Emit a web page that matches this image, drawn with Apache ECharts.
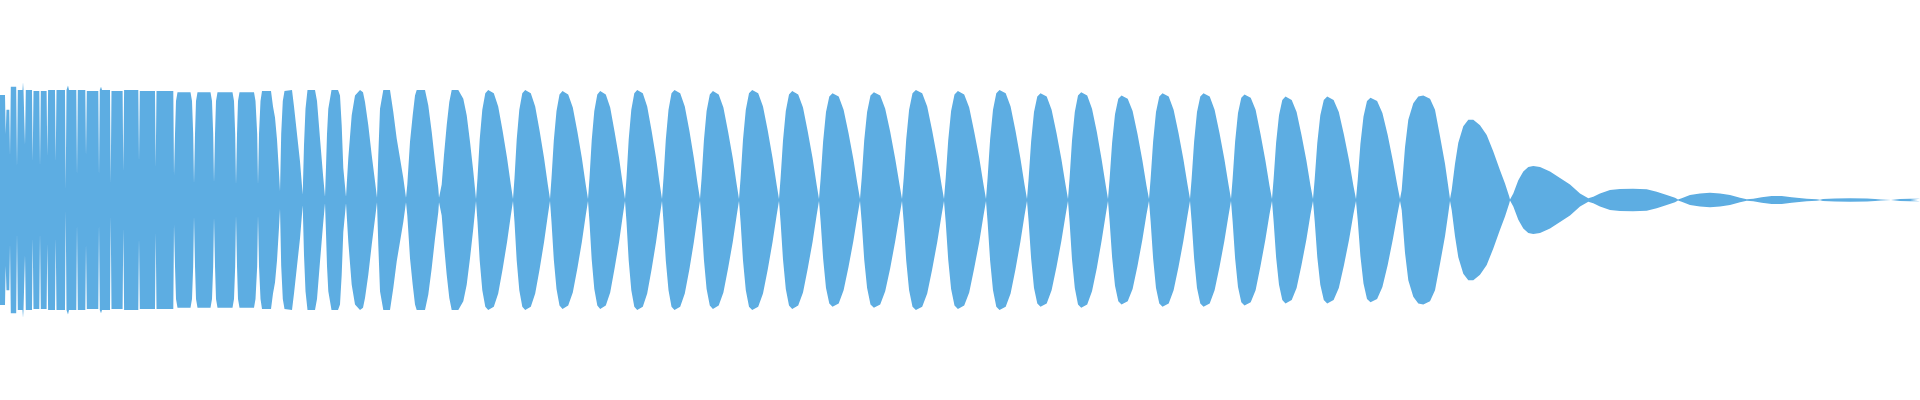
<!DOCTYPE html>
<html>
<head>
<meta charset="utf-8">
<script src="https://cdn.jsdelivr.net/npm/echarts@6/dist/echarts.min.js"></script>
<style>
html,body{margin:0;padding:0;background:#fff;}
#chart{width:1920px;height:400px;}
</style>
</head>
<body>
<div id="chart"></div>
<script>
// Envelope of the waveform: [time position, amplitude].
const headPts = [
[0,.955],[5,.955],[5.7,.6],[6.5,.82],[9.3,.82],[10,.4],[10.8,1.03],[16.2,1.03],[17,.3],[17.8,1.0],[22.5,1.0],[23,1.07],[23.5,1.0],[24.3,1.0],
[25,.5],[25.8,1.0],[32,1.0],[32.7,.35],[33.5,.99],[39.3,.99],[40,.3],[40.8,.99],[46.6,.99],[47.3,.4],[48.1,1.0],[55,1.0],
[55.7,.35],[56.5,1.0],[65,1.0],[65.7,.1],[66.5,1.0],[68,1.04],[69,1.0],[76.3,1.0],[77,.22],[77.8,1.0],[85.3,1.0],[86,.4],[86.8,.99],[98.3,.99],
[99,.22],[99.8,1.0],[101,1.03],[102,1.0],[110,1.0],[110.7,.15],[111.5,.99],[122.6,.99],[123.3,.26],[124.1,1.0],[138.3,1.0],[139,.35],[139.8,.99],
[155,.99],[155.7,.3],[156.5,.99],[173.3,.99],[174,.22],
[175,.6],[176,.9],[177.5,.98],[190.5,.98],[192,.9],[193.2,.6],[194,.15],
[195,.6],[196,.9],[197.5,.98],[210.5,.98],[212,.9],[213.2,.6],[214,.16],
[215,.6],[216,.9],[217.5,.98],[232.5,.98],[234,.9],[235.2,.6],[236,.14],
[237,.6],[238,.9],[239.5,.98],[254,.98],[255.5,.9],[257.2,.6],[258,.14],
[259,.6],[260.5,.9],[262,.99],[271,.99],[273,.85],[275,.75],[277,.55],[279,.25],[280,.08],
[281.2,.6],[282.8,.9],[284.5,.99],[292,1.0],[294,.85],[297,.6],[300,.35],[301.8,.15],[302.7,.05]
];
const bodyPtsA = [
[304,.5],[305.5,.83],[307.5,1.0],[315,1.0],[317,.9],[320,.56],[323,.23],
[325,.03],[326,.3],[327,.6],[328.3,.83],[331.5,1.0],[338,1.0],[340,.95],[341.7,.68],[343.3,.29],
[346,.03],[348.3,.38],[351.7,.77],[355,.95],[360,1.0],[363,.98],[365,.89],[368.3,.68],[371.7,.41],[375,.17],
[377,.02],[378.3,.41],[380,.83],[383.3,1.0],[390,1.0],[393.3,.8],[396.7,.56],[400,.38],[403.3,.2],
[406,.02],[407.3,.14],[410,.53],[412.7,.77],[415,.95],[416.7,1.0],[425,1.0],[428.3,.86],[431.7,.62],[435,.35],[438.3,.11],
[439,.02],[441.7,.14],[444,.41],[446.7,.68],[449.3,.89],[451.7,1.0],[458.3,1.0],[463.3,.92],[466.7,.77],[470,.53],[473.3,.26],
[476,.01],[477.5,.2],[479.7,.55],[482.3,.82],[485.3,.97],[488.2,1],[493.8,.97],[498.2,.85],[502.6,.63],[507.1,.38],[510.8,.14],
[513,.01],[514.5,.2],[516.7,.55],[519.3,.82],[522.3,.97],[525.2,1],[530.8,.97],[535.2,.85],[539.6,.63],[544.1,.38],[547.8,.14],
[550,.01],[551.5,.2],[553.8,.54],[556.5,.81],[559.5,.96],[562.5,.99],[568.2,.96],[572.8,.84],[577.4,.62],[581.9,.38],[585.7,.14],
[588,.01],[589.5,.2],[591.7,.54],[594.3,.81],[597.3,.96],[600.2,.99],[605.8,.96],[610.2,.84],[614.6,.62],[619.1,.38],[622.8,.14],
[625,.01],[626.5,.2],[628.7,.55],[631.3,.82],[634.3,.97],[637.2,1],[642.8,.97],[647.2,.85],[651.6,.63],[656.1,.38],[659.8,.14],
[662,.01],[663.5,.2],[665.8,.55],[668.5,.82],[671.5,.97],[674.5,1],[680.2,.97],[684.8,.85],[689.4,.63],[693.9,.38],[697.7,.14]
];
const bodyPtsB = [
[700,.01],[701.6,.2],[703.9,.54],[706.6,.81],[709.8,.96],[712.9,.99],[718.7,.96],[723.4,.84],[728.1,.62],[732.8,.38],[736.7,.14],
[739,.01],[740.6,.2],[743,.55],[745.8,.82],[749,.97],[752.2,1],[758.2,.97],[763,.85],[767.8,.63],[772.6,.38],[776.6,.14],
[779,.01],[780.6,.2],[783,.54],[785.8,.81],[789,.96],[792.2,.99],[798.2,.96],[803,.84],[807.8,.62],[812.6,.38],[816.6,.14],
[819,.01],[820.6,.19],[823.1,.53],[826,.8],[829.3,.94],[832.5,.97],[838.7,.94],[843.6,.82],[848.5,.61],[853.4,.37],[857.5,.14],
[860,.01],[861.7,.2],[864.2,.54],[867.1,.8],[870.5,.95],[873.9,.98],[880.2,.95],[885.2,.83],[890.2,.62],[895.3,.37],[899.5,.14],
[902,.01],[903.7,.2],[906.2,.55],[909.1,.82],[912.5,.97],[915.9,1],[922.2,.97],[927.2,.85],[932.2,.63],[937.3,.38],[941.5,.14],
[944,.01],[945.7,.2],[948.2,.54],[951.1,.81],[954.5,.96],[957.9,.99],[964.2,.96],[969.2,.84],[974.2,.62],[979.3,.38],[983.5,.14],
[986,.01],[987.6,.2],[990.1,.55],[993,.82],[996.3,.97],[999.5,1],[1005.7,.97],[1010.6,.85],[1015.5,.63],[1020.4,.38],[1024.5,.14],
[1027,.01],[1028.6,.19],[1031.1,.53],[1034,.8],[1037.3,.94],[1040.5,.97],[1046.7,.94],[1051.6,.82],[1056.5,.61],[1061.4,.37],[1065.5,.14],
[1068,.01],[1069.6,.2],[1072,.54],[1074.8,.8],[1078,.95],[1081.2,.98],[1087.2,.95],[1092,.83],[1096.8,.62],[1101.6,.37],[1105.6,.14],
[1108,.01],[1109.6,.19],[1112.1,.52],[1115,.78],[1118.3,.92],[1121.5,.95],[1127.7,.92],[1132.6,.81],[1137.5,.6],[1142.4,.36],[1146.5,.13],
[1149,.01],[1150.6,.19],[1153.1,.53],[1156,.8],[1159.3,.94],[1162.5,.97],[1168.7,.94],[1173.6,.82],[1178.5,.61],[1183.4,.37],[1187.5,.14],
[1190,.01],[1191.6,.19],[1194.1,.53],[1197,.8],[1200.3,.94],[1203.5,.97],[1209.7,.94],[1214.6,.82],[1219.5,.61],[1224.4,.37],[1228.5,.14],
[1231,.01],[1232.6,.19],[1235.1,.53],[1238,.79],[1241.3,.93],[1244.5,.96],[1250.7,.93],[1255.6,.82],[1260.5,.6],[1265.4,.36],[1269.5,.13],
[1272,.01],[1273.6,.19],[1276.1,.52],[1279,.77],[1282.3,.91],[1285.5,.94],[1291.7,.91],[1296.6,.8],[1301.5,.59],[1306.4,.36],[1310.5,.13],
[1313,.01],[1314.7,.19],[1317.3,.52],[1320.3,.77],[1323.8,.91],[1327.2,.94],[1333.6,.91],[1338.8,.8],[1344,.59],[1349.1,.36],[1353.4,.13],
[1356,.01],[1357.8,.19],[1360.4,.51],[1363.5,.76],[1367,.9],[1370.5,.93],[1377.1,.9],[1382.4,.79],[1387.7,.59],[1393,.35],[1397.4,.13]
];
const tailPts = [
[1400,.01],[1401.7,.09],[1405,.48],[1408.3,.73],[1413.3,.88],[1418.3,.94],[1423.3,.95],[1430,.92],[1435,.82],[1440,.58],[1445,.33],[1448.3,.12],
[1450,.01],[1451.7,.09],[1455,.33],[1458.3,.52],[1463.3,.67],[1468.3,.73],[1473.3,.73],[1480,.68],[1486.7,.59],[1493.3,.44],[1500,.27],[1505,.15],[1509.3,.03],
[1510,.005],[1513.3,.06],[1518.3,.18],[1523.3,.26],[1528.3,.3],[1533.3,.31],[1540,.3],[1550,.26],[1560,.2],[1570,.14],[1580,.06],[1588.3,.015],
[1590,.004],[1593.3,.03],[1600,.06],[1610,.09],[1620,.1],[1633,.103],[1646.7,.097],[1656.7,.076],[1666.7,.045],[1675,.02],
[1678,.004],[1681.7,.015],[1690,.045],[1700,.06],[1710,.067],[1720,.06],[1730,.045],[1740,.02],[1746.7,.006],
[1747.5,.002],[1753.3,.012],[1761.7,.024],[1771.7,.036],[1781.7,.036],[1791.7,.024],[1806.7,.012],[1816.7,.006],
[1820,.002],[1823,.009],[1835,.014],[1850,.015],[1867,.014],[1875,.01],[1881,.005],[1882,0],[1891,0],
[1892,.006],[1900,.01],[1910,.011],[1920,.011]
];

const envelope = headPts.concat(bodyPtsA, bodyPtsB, tailPts);
const upper = envelope.map(p => [p[0], p[1]]);
const lower = envelope.map(p => [p[0], -p[1]]);

const color = '#5DADE2';
const chart = echarts.init(document.getElementById('chart'), null, {renderer: 'canvas'});
const mkSeries = (data) => ({
  type: 'line',
  data: data,
  symbol: 'none',
  smooth: false,
  silent: true,
  lineStyle: {width: 1, color: color, opacity: 0},
  areaStyle: {color: color, opacity: 1, origin: 0}
});
chart.setOption({
  animation: false,
  backgroundColor: '#ffffff',
  grid: {left: 0, right: 0, top: 0, bottom: 0},
  xAxis: {type: 'value', min: 0, max: 1920, show: false},
  yAxis: {type: 'value', min: -1.818, max: 1.818, show: false},
  series: [mkSeries(upper), mkSeries(lower)]
});
</script>
</body>
</html>
